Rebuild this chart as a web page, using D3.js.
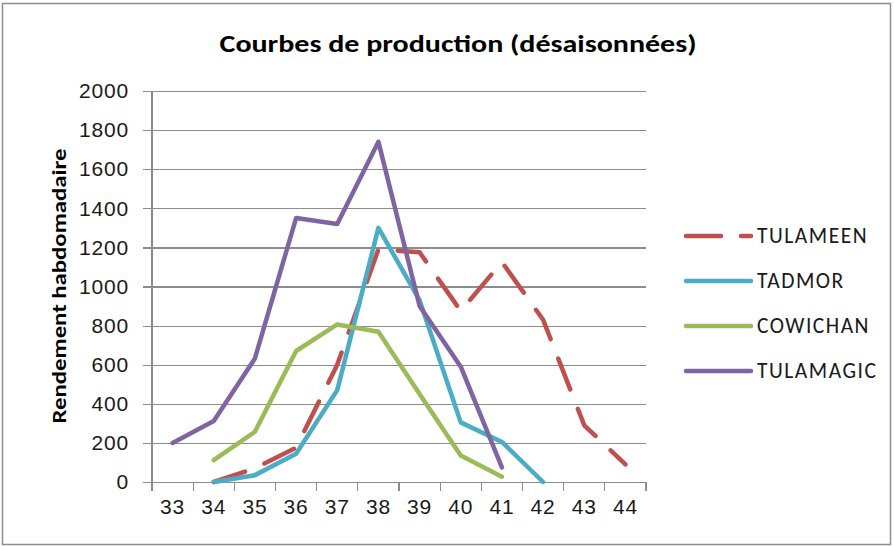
<!DOCTYPE html>
<html>
<head>
<meta charset="utf-8">
<style>
  body { margin: 0; background: #fff; }
  svg { display: block; font-family: Carlito, "Liberation Sans Narrow", "Liberation Sans", sans-serif; }
  .grid line { stroke: #8c8c8c; stroke-width: 1.2; shape-rendering: crispEdges; }
  .grid path { stroke-width: 0; }
  .axis path, .axis line { stroke: #8c8c8c; stroke-width: 1.2; shape-rendering: crispEdges; }
  .axis text { fill: #1a1a1a; font-size: 21px; letter-spacing: 0.8px; }
  .serie { fill: none; stroke-width: 4.5; stroke-linejoin: round; stroke-linecap: round; }
</style>
</head>
<body>
<svg width="894" height="546"></svg>
<script src="https://d3js.org/d3.v7.min.js"></script>
<script>
// semaines
var weeks = [33, 34, 35, 36, 37, 38, 39, 40, 41, 42, 43, 44];
var yTicks = [0, 200, 400, 600, 800, 1000, 1200, 1400, 1600, 1800, 2000];

var seriesNames = ["TULAMEEN", "TADMOR", "COWICHAN", "TULAMAGIC"];
var seriesColors = ["#C0504D", "#4BACC6", "#9BBB59", "#8064A2"];

// valeurs (null = pas de point)
var tulameen  = [null, 0, 70, 175, 600, 1190, 1175, 875, 1125, 830, 290, 90];
var tadmor    = [null, 0, 35, 145, 470, 1300, 930, 305, 205, 0, null, null];
var cowichan  = [null, 112, 257, 670, 806, 769, 450, 135, 27, null, null, null];
var tulamagic = [200, 312, 632, 1350, 1320, 1740, 900, 590, 75, null, null, null];

var seriesValues = [tulameen, tadmor, cowichan, tulamagic];

var margin = {top: 91, left: 152},
    width = 494,
    height = 391;

var svg = d3.select("svg");

// cadre
svg.append("rect")
    .attr("x", 2.5).attr("y", 3.5)
    .attr("width", 888).attr("height", 541)
    .attr("fill", "#fff")
    .attr("stroke", "#8c8c8c")
    .attr("stroke-width", 1.5);

svg.append("text")
    .attr("x", 458)
    .attr("y", 52)
    .attr("text-anchor", "middle")
    .style("font-size", "25px")
    .style("font-weight", "bold")
    .attr("textLength", 477)
    .attr("lengthAdjust", "spacingAndGlyphs")
    .text("Courbes de production (désaisonnées)");

svg.append("text")
    .attr("transform", "translate(66,286) rotate(-90)")
    .attr("text-anchor", "middle")
    .style("font-size", "20px")
    .style("font-weight", "bold")
    .attr("textLength", 275)
    .attr("lengthAdjust", "spacingAndGlyphs")
    .text("Rendement habdomadaire");

var g = svg.append("g")
    .attr("transform", "translate(" + margin.left + "," + margin.top + ")");

var x = d3.scaleBand().domain(weeks).range([0, width]);
var y = d3.scaleLinear().domain([0, 2000]).range([height, 0]);

// grille
g.append("g")
    .attr("class", "grid")
    .call(d3.axisLeft(y).tickValues(yTicks).tickSize(-width).tickFormat(""));

// axe Y
g.append("g")
    .attr("class", "axis")
    .call(d3.axisLeft(y).tickValues(yTicks).tickFormat(d3.format("d"))
        .tickSize(9).tickSizeOuter(0).tickPadding(14));

// axe X (ticks entre les categories)
var xAxis = g.append("g")
    .attr("class", "axis")
    .attr("transform", "translate(0," + height + ")")
    .call(d3.axisBottom(x).tickSize(0).tickSizeOuter(0).tickPadding(17));

xAxis.selectAll(".tickmark")
    .data(d3.range(weeks.length + 1))
    .enter().append("line")
    .attr("x1", function(i) { return i * x.step(); })
    .attr("x2", function(i) { return i * x.step(); })
    .attr("y1", 0).attr("y2", 9);

g.select(".axis path").remove();
g.append("line")
    .attr("x1", 0).attr("x2", 0).attr("y1", 0).attr("y2", height)
    .attr("stroke", "#8c8c8c").attr("stroke-width", 1.2)
    .attr("shape-rendering", "crispEdges");

var line = d3.line()
    .defined(function(d) { return d.v != null; })
    .x(function(d) { return x(d.w) + x.bandwidth() / 2; })
    .y(function(d) { return y(d.v); });

seriesNames.forEach(function(name, i) {
  var pts = weeks.map(function(w, j) { return {w: w, v: seriesValues[i][j]}; });
  g.append("path")
      .attr("class", "serie")
      .attr("stroke", seriesColors[i])
      .attr("stroke-dasharray", i === 0 ? "33,21" : null)
      .attr("d", line(pts));
});

// legende
var legend = svg.append("g").attr("transform", "translate(686,236)");
seriesNames.forEach(function(name, i) {
  var row = legend.append("g").attr("transform", "translate(0," + (i * 45) + ")");
  row.append("line")
      .attr("class", "serie")
      .attr("x1", 0).attr("x2", 65)
      .attr("y1", 0).attr("y2", 0)
      .attr("stroke", seriesColors[i])
      .attr("stroke-dasharray", i === 0 ? "35,20" : null);
  row.append("text")
      .attr("x", 71)
      .attr("y", 7)
      .style("font-size", "21.5px")
      .style("letter-spacing", "1.5px")
      .attr("fill", "#1a1a1a")
      .text(name);
});
</script>
</body>
</html>
